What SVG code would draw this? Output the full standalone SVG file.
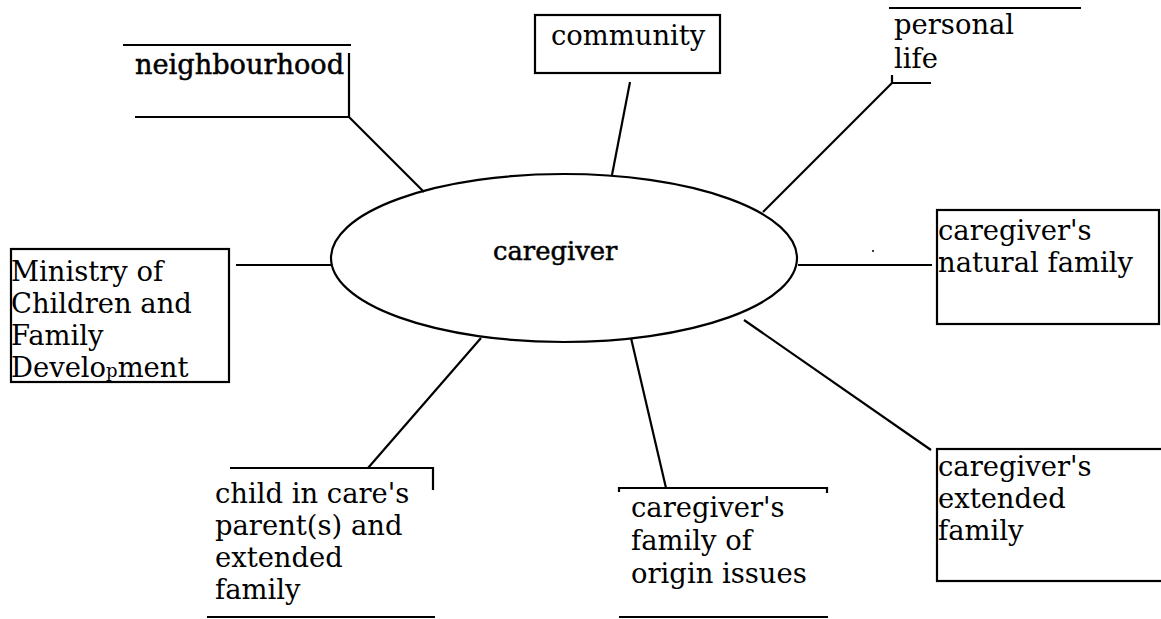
<svg xmlns="http://www.w3.org/2000/svg" width="1161" height="619" viewBox="0 0 1161 619">
<style>
.t{font-family:"DejaVu Serif","Liberation Serif",serif;font-size:27.4px;fill:#000}
.tb{font-family:"DejaVu Serif","Liberation Serif",serif;fill:#000;stroke:#000;stroke-width:0.5}
.ln{stroke:#000;stroke-width:2.2;fill:none}
.bx{stroke:#000;stroke-width:2.2;fill:#fff}
</style>
<rect width="1161" height="619" fill="#fff"/>
<g id="connectors">
<line class="ln" x1="349" y1="117" x2="424" y2="192"/>
<line class="ln" x1="630" y1="82" x2="612" y2="175"/>
<line class="ln" x1="892" y1="83" x2="763" y2="212"/>
<line class="ln" x1="236" y1="265" x2="331" y2="265"/>
<line class="ln" x1="798" y1="265" x2="932" y2="265"/>
<line class="ln" x1="481" y1="338" x2="368" y2="468"/>
<line class="ln" x1="631" y1="338" x2="666" y2="488"/>
<line class="ln" x1="744" y1="320" x2="931" y2="450"/>
</g>
<g id="caregiver">
<ellipse class="ln" cx="564" cy="258" rx="233" ry="84"/>
<text class="tb" x="493" y="260" font-size="25.8">caregiver</text>
</g>
<g id="neighbourhood">
<line class="ln" x1="123" y1="45" x2="351" y2="45"/>
<line class="ln" x1="349" y1="53" x2="349" y2="117"/>
<line class="ln" x1="135" y1="117" x2="350" y2="117"/>
<text class="tb" x="135" y="74" font-size="27.2">neighbourhood</text>
</g>
<g id="community">
<rect class="bx" x="535" y="15" width="185" height="58"/>
<text class="t" x="551" y="45">community</text>
</g>
<g id="personal-life">
<line class="ln" x1="889" y1="8" x2="1081" y2="8"/>
<text class="t" x="894" y="34">personal</text>
<text class="t" x="894" y="68">life</text>
<polyline class="ln" points="892,75 892,83 931,83"/>
</g>
<g id="ministry">
<rect class="bx" x="11" y="249" width="218" height="133"/>
<text class="t" x="11" y="281">Ministry of</text>
<text class="t" x="11" y="313">Children and</text>
<text class="t" x="11" y="345">Family</text>
<text class="t" x="11" y="377">Develo<tspan font-size="18">p</tspan>ment</text>
</g>
<g id="natural-family">
<rect class="bx" x="937" y="210" width="222" height="114"/>
<text class="t" x="938" y="240">caregiver's</text>
<text class="t" x="938" y="272">natural family</text>
<circle cx="873" cy="251" r="1" fill="#000"/>
</g>
<g id="child-in-care">
<polyline class="ln" points="230,468 433,468 433,490"/>
<text class="t" x="215" y="503">child in care's</text>
<text class="t" x="215" y="535">parent(s) and</text>
<text class="t" x="215" y="567">extended</text>
<text class="t" x="215" y="599">family</text>
<line class="ln" x1="207" y1="617" x2="435" y2="617"/>
</g>
<g id="family-of-origin">
<polyline class="ln" points="619,492 619,488 827,488 827,493"/>
<text class="t" x="631" y="517">caregiver's</text>
<text class="t" x="631" y="550">family of</text>
<text class="t" x="631" y="583">origin issues</text>
<line class="ln" x1="619" y1="617" x2="828" y2="617"/>
</g>
<g id="extended-family">
<rect class="bx" x="937" y="449" width="230" height="132"/>
<text class="t" x="938" y="476">caregiver's</text>
<text class="t" x="938" y="508">extended</text>
<text class="t" x="938" y="540">family</text>
</g>
</svg>
